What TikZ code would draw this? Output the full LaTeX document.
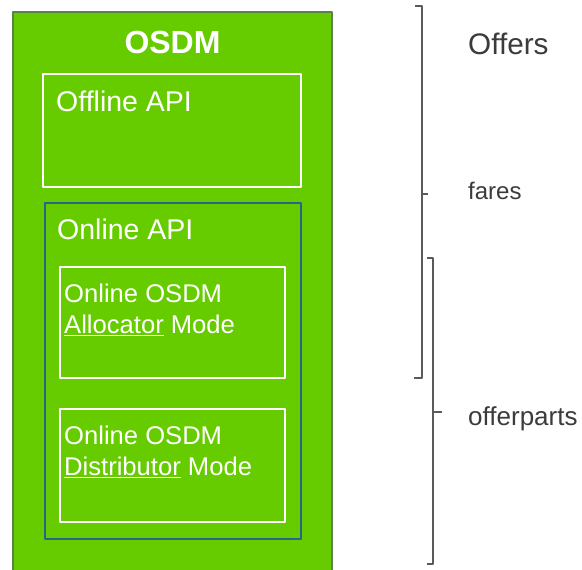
\documentclass[tikz,border=0pt]{standalone}
\usepackage{fontspec}
\setmainfont{Liberation Sans}
\usetikzlibrary{calc}

\definecolor{osdmgreen}{HTML}{66CC00}
\definecolor{osdmedge}{HTML}{5E7F4E}
\definecolor{apiblue}{HTML}{2A6488}
\definecolor{bracegray}{HTML}{5A5A5A}
\definecolor{labelgray}{HTML}{3B3B3B}

\begin{document}
\begin{tikzpicture}[x = 1pt, y = -1pt, line join = round,
    whitebox/.style = {draw = white, line width = 2.2pt, inner sep = 0pt},
    boxtext/.style = {text = white, inner sep = 0pt, align = left,
      font = \fontsize{25.6}{31}\selectfont},
    sidetext/.style = {text = labelgray, inner sep = 0pt}]
  \useasboundingbox (0, 0) rectangle (582, 570);

  \node[fill = osdmgreen, draw = osdmedge, line width = 1.5pt,
    minimum width = 319pt, minimum height = 563pt, inner sep = 0pt]
    (osdm) at (172.5, 293.5) {};
  \node[text = white, inner sep = 0pt, anchor = base,
    font = \fontsize{32}{38}\selectfont\bfseries] (osdmtitle) at (172.5, 53) {OSDM};

  \node[whitebox, minimum width = 258pt, minimum height = 113pt]
    (offline) at (172, 130.5) {};
  \node[boxtext, anchor = base west, font = \fontsize{28.5}{34}\selectfont]
    (offlinetext) at (56, 111) {Offline API};

  \node[draw = apiblue, line width = 1.3pt, inner sep = 0pt,
    minimum width = 256pt, minimum height = 336pt] (online) at (173, 371) {};
  \node[boxtext, anchor = base west, font = \fontsize{28.5}{34}\selectfont]
    (onlinetext) at (57, 239) {Online API};

  \node[whitebox, minimum width = 225pt, minimum height = 111pt]
    (alloc) at (172.5, 322.5) {};
  \node[boxtext, anchor = north west] (alloctext) at (64, 283.5)
    {Online OSDM\\\underline{Allocator} Mode};

  \node[whitebox, minimum width = 225pt, minimum height = 113pt]
    (distrib) at (172.5, 465.5) {};
  \node[boxtext, anchor = north west] (distribtext) at (64, 426)
    {Online OSDM\\\underline{Distributor} Mode};

  % brackets on the right
  \coordinate (faresA) at (422, 6);
  \coordinate (faresB) at (422, 378);
  \coordinate (faresM) at (422, 194);
  \draw[bracegray, line width = 1.3pt] ($(faresA) + (-7, 0)$) -- (faresA)
    -- (faresB) -- ($(faresB) + (-8, 0)$);
  \draw[bracegray, line width = 1.3pt] (faresM) -- +(6, 0);

  \coordinate (partsA) at (433, 258);
  \coordinate (partsB) at (433, 564);
  \coordinate (partsM) at (433, 412);
  \draw[bracegray, line width = 1.3pt] ($(partsA) + (-6, 0)$) -- (partsA)
    -- (partsB) -- ($(partsB) + (-6, 0)$);
  \draw[bracegray, line width = 1.3pt] (partsM) -- +(9, 0);

  \node[sidetext, anchor = base west, font = \fontsize{29.7}{36}\selectfont]
    (offers) at (468, 54) {Offers};
  \node[sidetext, anchor = base west, font = \fontsize{24}{29}\selectfont]
    (fares) at (468, 199) {fares};
  \node[sidetext, anchor = base west, font = \fontsize{26}{31}\selectfont]
    (offerparts) at (468, 425) {offerparts};
\end{tikzpicture}
\end{document}
